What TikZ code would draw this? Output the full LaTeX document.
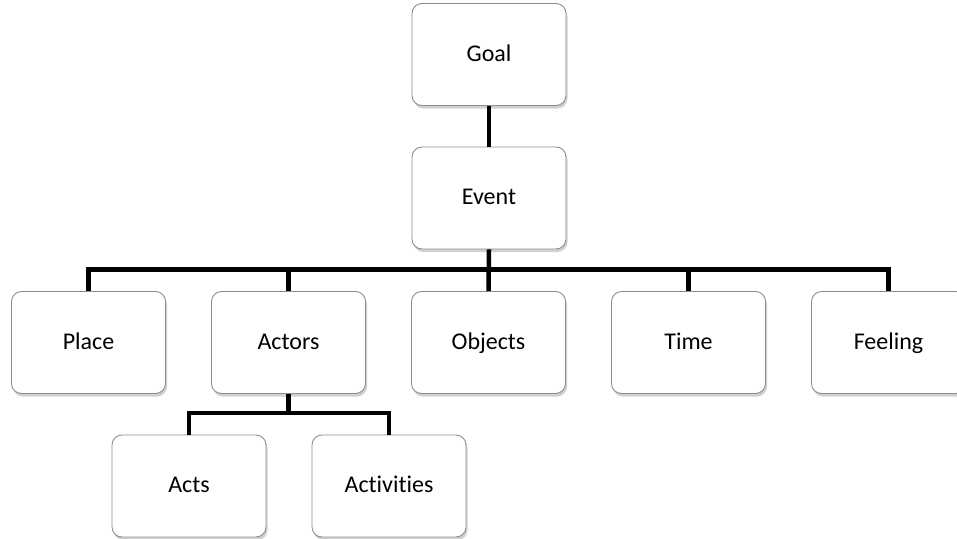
\documentclass[tikz,border=0pt]{standalone}
\usepackage{fontspec}
\setmainfont{Carlito}[Ligatures=NoCommon]
\usetikzlibrary{shadows}
\definecolor{boxline}{HTML}{8C8C8C}
\tikzset{
  box/.style={draw=boxline, line width=0.9pt, fill=white, rounded corners=10pt,
    minimum width=154pt, minimum height=102pt, inner sep=0pt,
    text height=18pt, text depth=4.6pt,
    font=\fontsize{24}{28}\selectfont,
    drop shadow={shadow xshift=1.5pt, shadow yshift=-3pt, opacity=0.3, fill=black!60}},
  conn/.style={draw=black, line width=4.5pt}
}
\begin{document}
\begin{tikzpicture}[x=1pt, y=-1pt]
  \useasboundingbox (0,0) rectangle (957,538);
  % top chain
  \node[box] (goal)  at (489,54.5) {Goal};
  \node[box] (event) at (489,198)  {Event};
  % second level
  \node[box] (place)   at (88.5,342.5)  {Place};
  \node[box] (actors)  at (288.5,342.5) {Actors};
  \node[box] (objects) at (488.5,342.5) {Objects};
  \node[box] (time)    at (688.5,342.5) {Time};
  \node[box] (feeling) at (888.5,342.5) {Feeling};
  % third level
  \node[box] (acts)       at (189,486) {Acts};
  \node[box] (activities) at (389,486) {Activities};
  % bus coordinates
  \coordinate (hub) at (488.5,269.5);
  \coordinate (subhub) at (288.5,413);
  % connectors
  \draw[conn] (goal.south) -- (event.north);
  \draw[conn] (event.south) -- (objects.north);
  \draw[conn] (place.north) |- (hub) -| (feeling.north);
  \draw[conn] (actors.north) -- (actors.north |- hub);
  \draw[conn] (time.north) -- (time.north |- hub);
  \draw[conn] (actors.south) -- (subhub);
  \draw[conn] (acts.north) |- (subhub) -| (activities.north);
\end{tikzpicture}
\end{document}
